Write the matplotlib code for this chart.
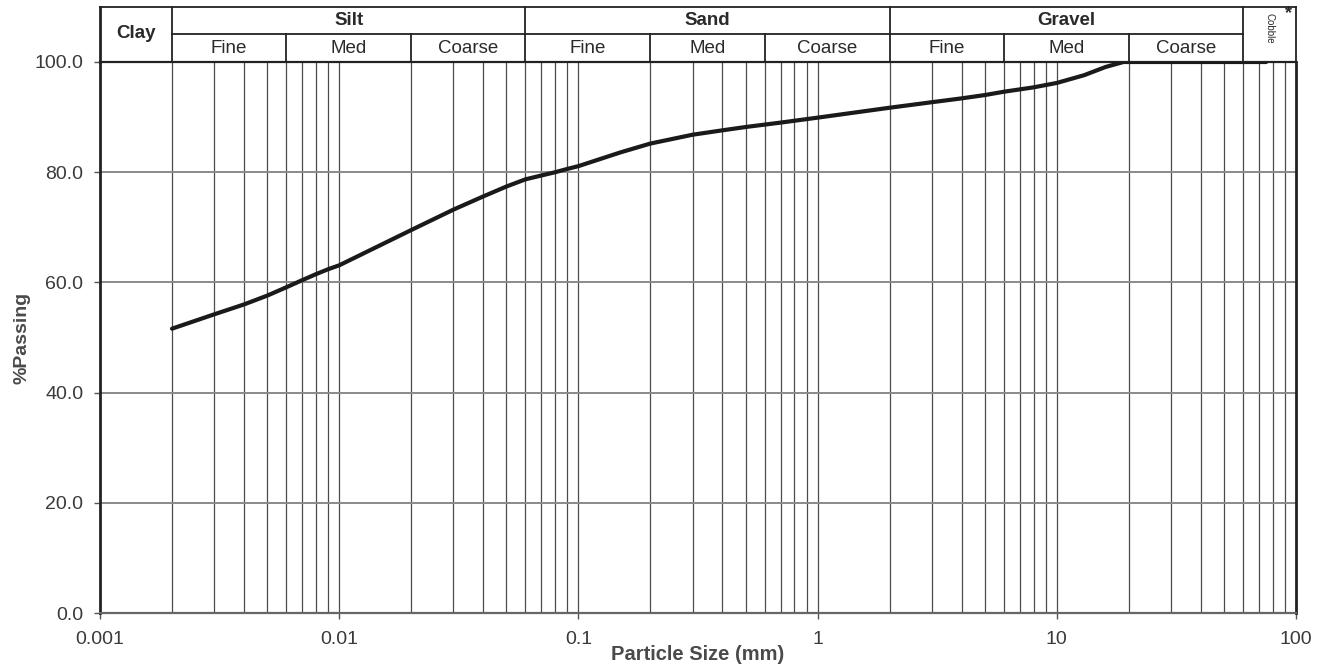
import matplotlib
matplotlib.use("Agg")
import matplotlib.pyplot as plt
import numpy as np

plt.rcParams['font.family'] = ['Liberation Sans', 'DejaVu Sans']

# ---- data ----
particle_size_mm = [0.002, 0.003, 0.004, 0.005, 0.006, 0.007, 0.008, 0.009, 0.01,
                    0.02, 0.03, 0.04, 0.05, 0.06, 0.07, 0.08, 0.09, 0.1, 0.15,
                    0.2, 0.3, 0.4, 0.5, 0.7, 1, 2, 3, 4, 5, 6, 8, 10, 13, 16, 19, 75]
percent_passing = [51.6, 54.2, 56.0, 57.6, 59.1, 60.4, 61.5, 62.4, 63.1,
                   69.5, 73.2, 75.6, 77.4, 78.7, 79.4, 80.0, 80.6, 81.1, 83.6,
                   85.2, 86.8, 87.6, 88.2, 89.0, 89.9, 91.7, 92.7, 93.4, 94.0, 94.6, 95.4, 96.2, 97.6, 99.1, 100, 100]

x_ticks = [0.001, 0.01, 0.1, 1, 10, 100]
x_tick_labels = ["0.001", "0.01", "0.1", "1", "10", "100"]
y_ticks = [0, 20, 40, 60, 80, 100]
y_tick_labels = ["0.0", "20.0", "40.0", "60.0", "80.0", "100.0"]

# soil classification bands
main_classes = ["Silt", "Sand", "Gravel"]
main_bounds = [(0.002, 0.06), (0.06, 2), (2, 60)]
sub_classes = ["Fine", "Med", "Coarse"] * 3
sub_bounds = [(0.002, 0.006), (0.006, 0.02), (0.02, 0.06),
              (0.06, 0.2), (0.2, 0.6), (0.6, 2),
              (2, 6), (6, 20), (20, 60)]

fig = plt.figure(figsize=(13.26, 6.70), dpi=100)
ax = fig.add_axes([100/1326, (670-613)/670, (1296-100)/1326, (613-62)/670])
ax.set_xscale('log')
ax.set_xlim(0.001, 100)
ax.set_ylim(0, 100)

# grid lines
grid_x = [m * 10.0**e for e in range(-3, 2) for m in range(1, 10)][1:]
for gx in grid_x:
    ax.axvline(gx, color='#4a4a4a', lw=0.9, zorder=1)
for gy in [20, 40, 60, 80]:
    ax.axhline(gy, color='#8a8a8a', lw=1.4, zorder=1)

# curve
ax.plot(particle_size_mm, percent_passing, color='#1a1a1a', lw=3.0,
        solid_joinstyle='round', solid_capstyle='round', zorder=3)

ax.set_xticks(x_ticks)
ax.set_xticklabels(x_tick_labels)
ax.xaxis.set_minor_locator(matplotlib.ticker.NullLocator())
ax.set_yticks(y_ticks)
ax.set_yticklabels(y_tick_labels)
ax.tick_params(axis='both', labelsize=14, labelcolor='#3a3a3a', color='#555555',
               length=4, width=1)
ax.tick_params(axis='x', pad=9)
ax.tick_params(axis='y', pad=8)
for s in ['left', 'right']:
    ax.spines[s].set_linewidth(2.0)
    ax.spines[s].set_color('#222222')
ax.spines['top'].set_linewidth(1.6)
ax.spines['top'].set_color('#222222')
ax.spines['bottom'].set_linewidth(1.6)
ax.spines['bottom'].set_color('#666666')

ax.set_xlabel("Particle Size (mm)", fontsize=14.5, fontweight='bold', color='#4a4a4a', va='center')
ax.xaxis.set_label_coords(0.5, -(655-613)/551)
ax.set_ylabel("%Passing", fontsize=14, fontweight='bold', color='#4a4a4a', va='center')
ax.yaxis.set_label_coords(-(100-22)/1196, 0.5)

# ---- header table ----
ytop, ymid, ybot = 110.0, 105.1, 100.0
hl = dict(color='#222222', lw=1.3, clip_on=False, zorder=4)
ax.plot([0.001, 100], [ytop, ytop], **hl)
ax.plot([0.002, 60], [ymid, ymid], **hl)
ax.plot([0.001, 0.001], [ybot, ytop], color='#222222', lw=2.0, clip_on=False)
ax.plot([100, 100], [ybot, ytop], color='#222222', lw=1.3, clip_on=False)
for b in [0.002, 0.06, 2, 60]:
    ax.plot([b, b], [ybot, ytop], **hl)
for b in [0.006, 0.02, 0.2, 0.6, 6, 20]:
    ax.plot([b, b], [ybot, ymid], **hl)

def gmid(a, b):
    return np.sqrt(a * b)

ax.text(gmid(0.001, 0.002), 105.1, "Clay", ha='center', va='center', fontsize=13.5,
        fontweight='bold', color='#2a2a2a', clip_on=False)
for name, (a, b) in zip(main_classes, main_bounds):
    ax.text(gmid(a, b), 107.6, name, ha='center', va='center', fontsize=13.5,
            fontweight='bold', color='#2a2a2a', clip_on=False)
for name, (a, b) in zip(sub_classes, sub_bounds):
    ax.text(gmid(a, b), 102.5, name, ha='center', va='center', fontsize=13.5,
            color='#2a2a2a', clip_on=False)
ax.text(gmid(60, 100) * 1.0, 106.2, "Cobble", ha='center', va='center', fontsize=7,
        rotation=270, color='#2a2a2a', clip_on=False)
ax.text(93, 108.7, "*", ha='center', va='center', fontsize=13, fontweight='bold',
        color='#2a2a2a', clip_on=False)

fig.savefig("out.png", dpi=100)
